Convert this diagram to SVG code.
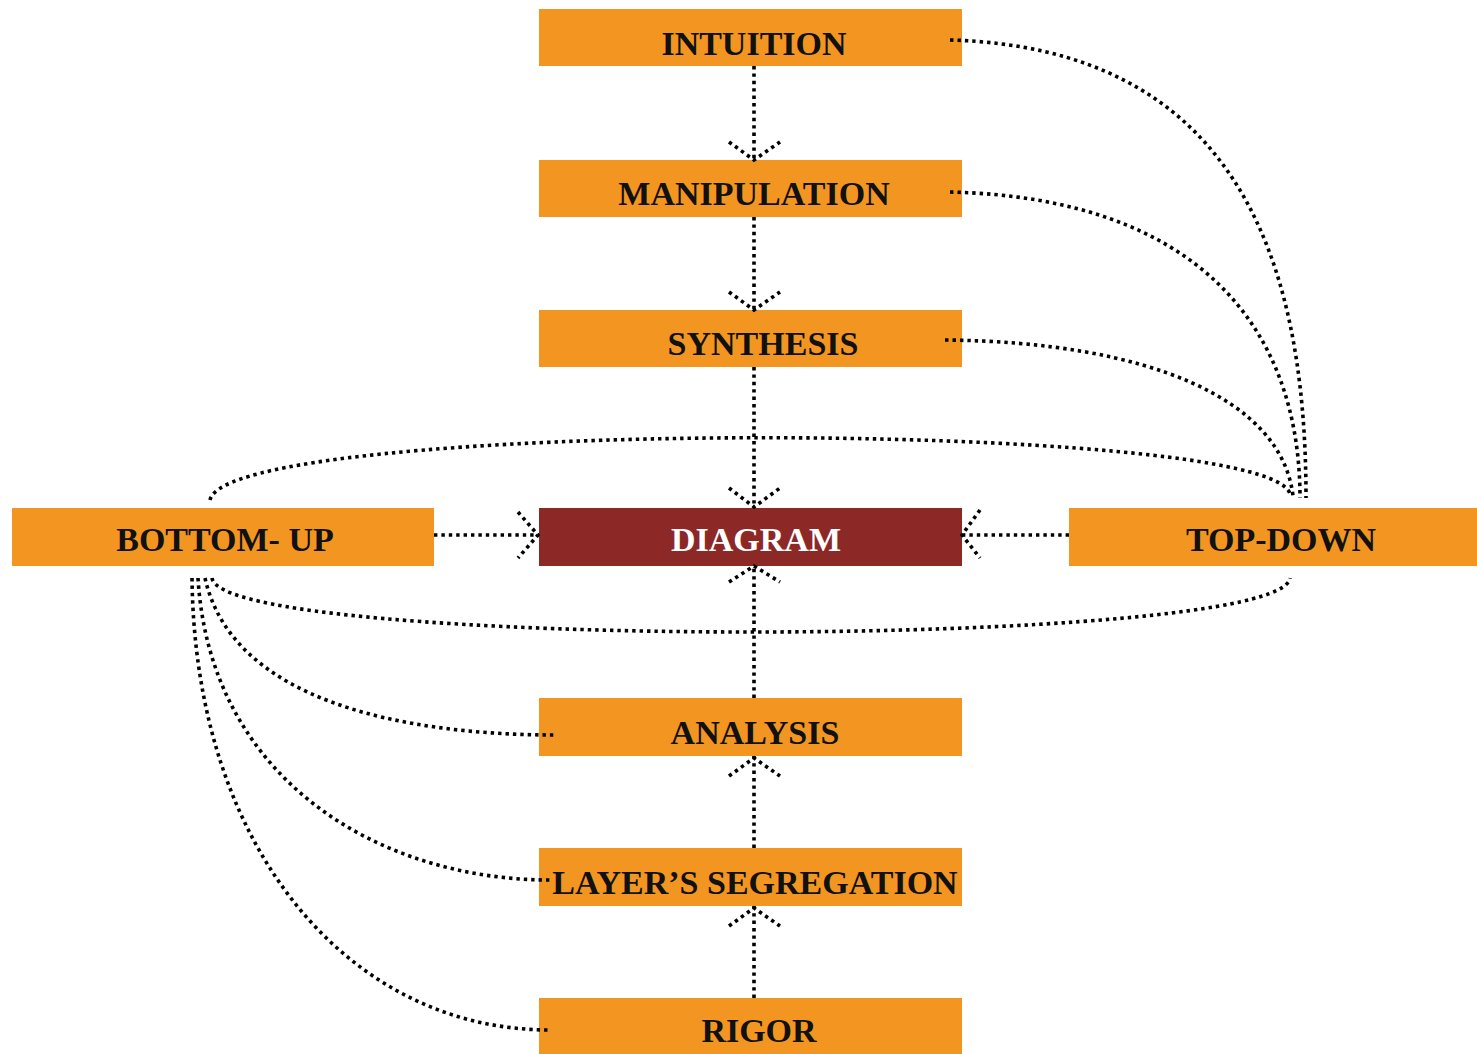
<svg xmlns="http://www.w3.org/2000/svg" width="1477" height="1054" viewBox="0 0 1477 1054">
<style>
.box{fill:#F39621}
.dark{fill:#8C2826}
.t{font-family:"Liberation Serif","DejaVu Serif",serif;font-weight:bold;font-size:34px;fill:#111;text-anchor:middle}
.tw{fill:#fff}
.c{fill:none;stroke:#000;stroke-width:3.6;stroke-dasharray:3.4 4}
</style>
<rect width="1477" height="1054" fill="#fff"/>
<g id="intuition"><rect class="box" x="539" y="9" width="423" height="57"/><text class="t" x="754" y="55">INTUITION</text></g>
<g id="manipulation"><rect class="box" x="539" y="160" width="423" height="57"/><text class="t" x="754" y="205">MANIPULATION</text></g>
<g id="synthesis"><rect class="box" x="539" y="310" width="423" height="57"/><text class="t" x="763" y="355">SYNTHESIS</text></g>
<g id="diagram"><rect class="dark" x="539" y="508" width="423" height="58"/><text class="t tw" x="756" y="551">DIAGRAM</text></g>
<g id="bottom-up"><rect class="box" x="12" y="508" width="422" height="58"/><text class="t" x="225" y="551">BOTTOM- UP</text></g>
<g id="top-down"><rect class="box" x="1069" y="508" width="408" height="58"/><text class="t" x="1281" y="551">TOP-DOWN</text></g>
<g id="analysis"><rect class="box" x="539" y="698" width="423" height="58"/><text class="t" x="755" y="744">ANALYSIS</text></g>
<g id="layers-segregation"><rect class="box" x="539" y="848" width="423" height="58"/><text class="t" x="755" y="894">LAYER’S SEGREGATION</text></g>
<g id="rigor"><rect class="box" x="539" y="998" width="423" height="56"/><text class="t" x="759" y="1042">RIGOR</text></g>
<g id="connectors">
<path class="c" d="M754,66 V160"/>
<path class="c" d="M729,142 L754,160 L780,142"/>
<path class="c" d="M754,217 V310"/>
<path class="c" d="M729,292 L754,310 L780,292"/>
<path class="c" d="M754,367 V508"/>
<path class="c" d="M729,488 L754,507 L780,488"/>
<path class="c" d="M434,535 H539"/>
<path class="c" d="M518,512 L538,535 L518,558"/>
<path class="c" d="M1069,535 H962"/>
<path class="c" d="M980,510 L962,535 L980,558"/>
<path class="c" d="M754,698 V566"/>
<path class="c" d="M729,582 L754,566 L780,582"/>
<path class="c" d="M754,848 V756"/>
<path class="c" d="M729,776 L754,758 L780,776"/>
<path class="c" d="M754,998 V906"/>
<path class="c" d="M729,926 L754,908 L780,926"/>
<path class="c" d="M950,40 C1230,48 1306,250 1306,498"/>
<path class="c" d="M950,192 C1200,198 1300,330 1300,498"/>
<path class="c" d="M945,340 C1150,342 1282,400 1293,496"/>
<path class="c" d="M210,500 C228,418 1270,418 1290,494"/>
<path class="c" d="M212,578 C222,650 1280,650 1290,578"/>
<path class="c" d="M205,578 C232,700 400,735 556,735"/>
<path class="c" d="M198,578 C210,780 380,880 550,880"/>
<path class="c" d="M192,578 C195,850 350,1030 550,1030"/>
</g>
</svg>
